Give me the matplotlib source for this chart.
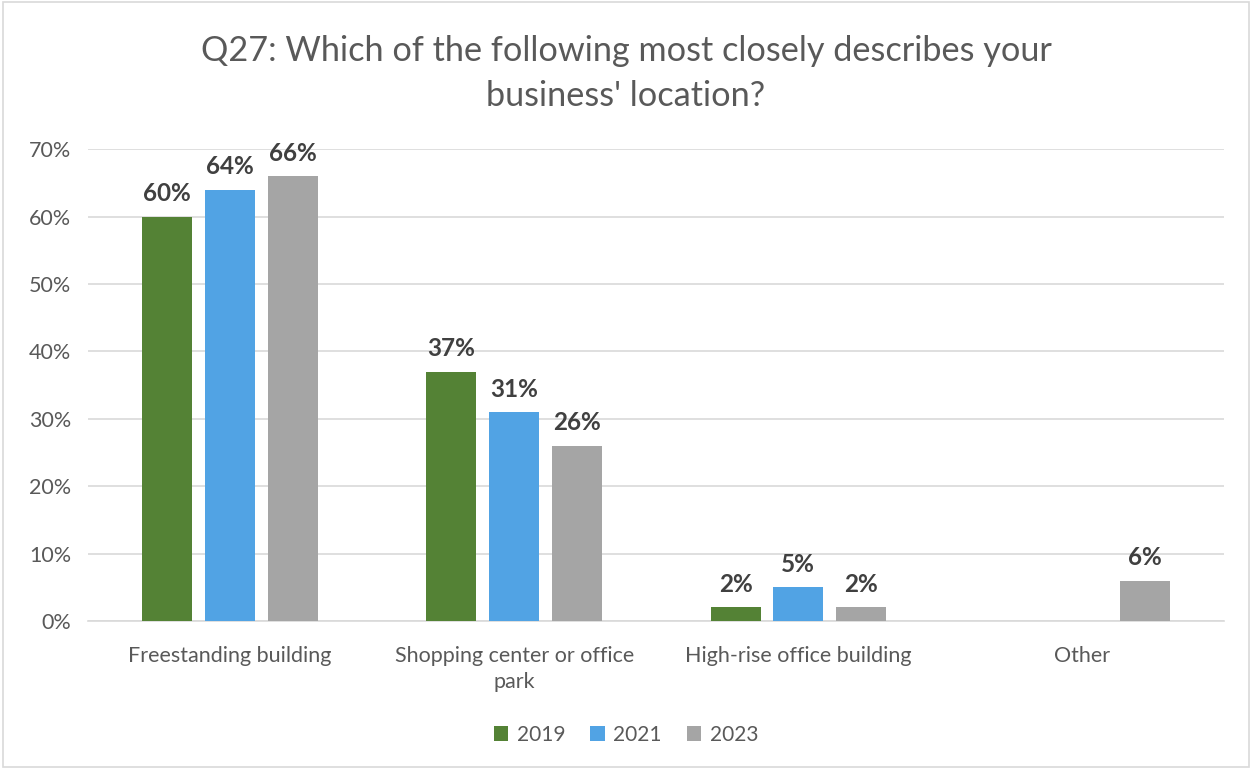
import numpy as np
import matplotlib.pyplot as plt

plt.rcParams['font.family'] = ['Lato', 'DejaVu Sans']

# Survey responses by year (share of respondents)
categories = ['Freestanding building', 'Shopping center or office\npark',
              'High-rise office building', 'Other']
years = ['2019', '2021', '2023']
v2019 = [0.60, 0.37, 0.02, np.nan]
v2021 = [0.64, 0.31, 0.05, np.nan]
v2023 = [0.66, 0.26, 0.02, 0.06]
colors = ['#548235', '#51A3E4', '#A5A5A5']

fig = plt.figure(figsize=(12.52, 7.69), dpi=100)
ax = fig.add_axes([0.0703, 0.1925, 0.9077, 0.6135])

# light frame around the whole chart
fig.add_artist(plt.Rectangle((0.002, 0.002), 0.996, 0.996, transform=fig.transFigure,
                             fill=False, edgecolor='#D9D9D9', linewidth=1.2))

x = np.arange(len(categories))
width = 0.176
step = 0.221
for i, (vals, yr, c) in enumerate(zip([v2019, v2021, v2023], years, colors)):
    pos = x + (i - 1) * step
    ax.bar(pos, vals, width, color=c, label=yr, zorder=3)
    for p, v in zip(pos, vals):
        if np.isnan(v):
            continue
        ax.text(p, v + 0.017, f'{v * 100:.0f}%', ha='center', va='bottom',
                fontsize=17.5, fontweight='bold', color='#404040')

ax.set_xlim(-0.5, 3.5)
ax.set_ylim(0, 0.7)
ax.set_yticks(np.arange(0, 0.71, 0.1))
ax.set_yticklabels([f'{t}%' for t in range(0, 71, 10)])
ax.set_xticks(x)
ax.set_xticklabels(categories, linespacing=1.35)
ax.yaxis.grid(True, color='#D9D9D9', linewidth=1.2, zorder=0)
ax.set_axisbelow(True)
for s in ['top', 'right', 'left']:
    ax.spines[s].set_visible(False)
ax.spines['bottom'].set_color('#D9D9D9')
ax.spines['bottom'].set_linewidth(1.2)
ax.tick_params(axis='both', length=0, labelsize=15.5, colors='#595959')
ax.tick_params(axis='x', pad=18)
ax.tick_params(axis='y', pad=12)

fig.suptitle("Q27: Which of the following most closely describes your\nbusiness' location?",
             y=0.955, fontsize=24.7, color='#595959', linespacing=1.5)

fig.legend(loc='lower center', bbox_to_anchor=(0.5, 0.007), ncol=3, frameon=False,
           fontsize=15, labelcolor='#595959', handlelength=0.7, handleheight=0.7,
           handletextpad=0.4, columnspacing=1.2)

fig.savefig('out.png', dpi=100)
